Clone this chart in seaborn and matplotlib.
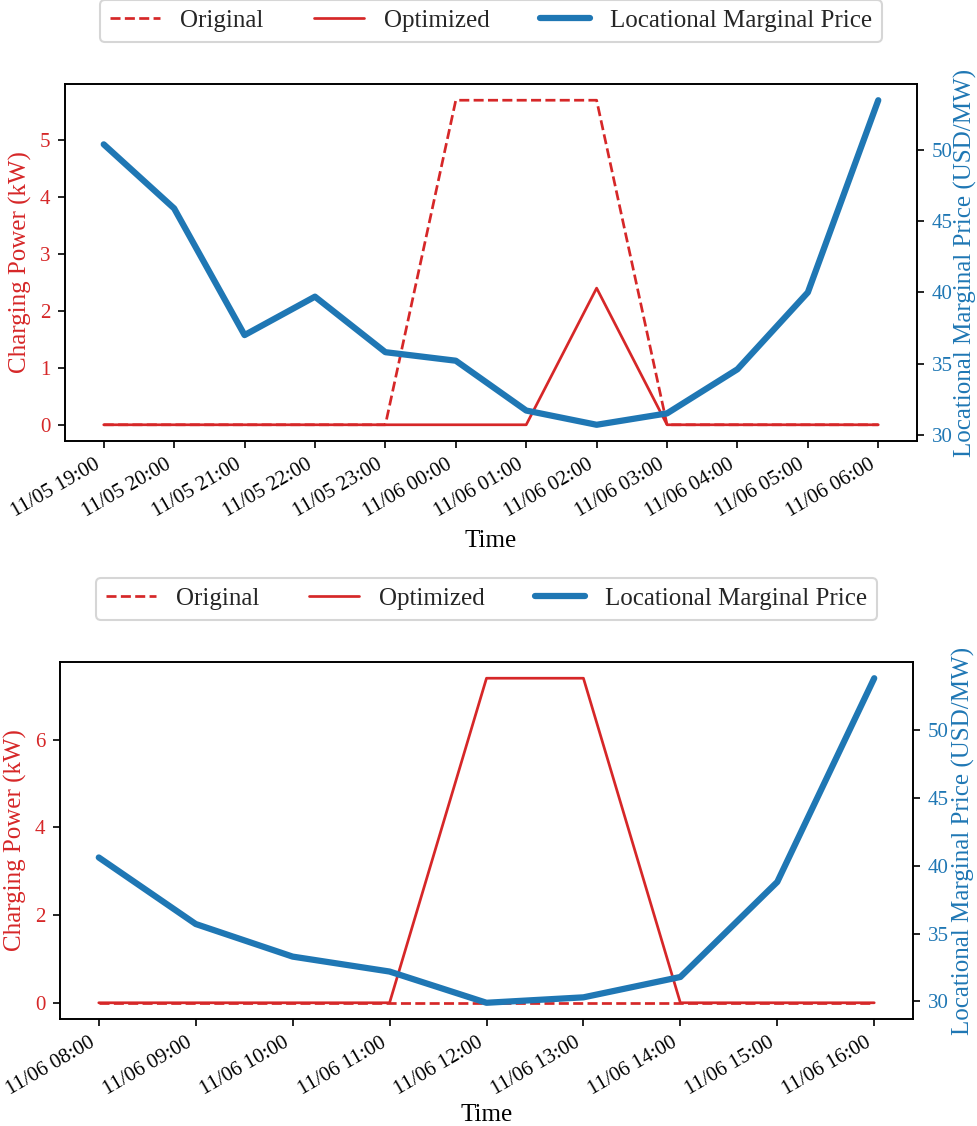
import matplotlib
matplotlib.use("Agg")
import matplotlib.pyplot as plt
import matplotlib.dates as mdates
import seaborn as sns
import pandas as pd

# ---- data ----
times_1 = ["2023-11-05 19:00", "2023-11-05 20:00", "2023-11-05 21:00", "2023-11-05 22:00",
           "2023-11-05 23:00", "2023-11-06 00:00", "2023-11-06 01:00", "2023-11-06 02:00",
           "2023-11-06 03:00", "2023-11-06 04:00", "2023-11-06 05:00", "2023-11-06 06:00"]
original_1 = [0, 0, 0, 0, 0, 5.7, 5.7, 5.7, 0, 0, 0, 0]
optimized_1 = [0, 0, 0, 0, 0, 0, 0, 2.4, 0, 0, 0, 0]
lmp_1 = [50.4, 45.9, 37.0, 39.7, 35.8, 35.2, 31.7, 30.7, 31.5, 34.6, 40.0, 53.5]

times_2 = ["2023-11-06 08:00", "2023-11-06 09:00", "2023-11-06 10:00", "2023-11-06 11:00",
           "2023-11-06 12:00", "2023-11-06 13:00", "2023-11-06 14:00", "2023-11-06 15:00",
           "2023-11-06 16:00"]
original_2 = [0, 0, 0, 0, 0, 0, 0, 0, 0]
optimized_2 = [0, 0, 0, 0, 7.4, 7.4, 0, 0, 0]
lmp_2 = [40.6, 35.7, 33.3, 32.2, 29.9, 30.3, 31.8, 38.8, 53.8]

RED = "#d62728"
BLUE = "#1f77b4"

sns.set_theme(style="ticks")
plt.rcParams["font.family"] = ["Liberation Serif", "DejaVu Serif"]
plt.rcParams["axes.edgecolor"] = "black"
plt.rcParams["xtick.color"] = "black"
plt.rcParams["ytick.color"] = "black"
for ax_name in ("xtick", "ytick"):
    plt.rcParams[f"{ax_name}.major.size"] = 3.5
    plt.rcParams[f"{ax_name}.major.width"] = 0.8
    plt.rcParams[f"{ax_name}.major.pad"] = 3.5

fig = plt.figure(figsize=(977 / 150, 1126 / 150), dpi=150)
ax_top = fig.add_axes([65 / 977, 1 - 441 / 1126, 852 / 977, 357 / 1126])
ax_bot = fig.add_axes([60 / 977, 1 - 1019 / 1126, 853 / 977, 357 / 1126])


def panel(ax, times, orig, opt, lmp, xlabelpad, ylabelpad):
    df = pd.DataFrame({"Time": pd.to_datetime(times), "Original": orig,
                       "Optimized": opt, "LMP": lmp})
    sns.lineplot(data=df, x="Time", y="Original", ax=ax, color=RED,
                 linestyle="--", linewidth=1.3, label="Original", legend=False)
    sns.lineplot(data=df, x="Time", y="Optimized", ax=ax, color=RED,
                 linewidth=1.3, label="Optimized", legend=False)
    ax2 = ax.twinx()
    sns.lineplot(data=df, x="Time", y="LMP", ax=ax2, color=BLUE,
                 linewidth=3, label="Locational Marginal Price", legend=False)

    ax.set_xticks(df["Time"])
    ax.xaxis.set_major_formatter(mdates.DateFormatter("%m/%d %H:%M"))
    for lab in ax.get_xticklabels():
        lab.set_rotation(30)
        lab.set_ha("right")
        lab.set_fontsize(10)
    ax.set_xlabel("Time", fontsize=12, color="black", labelpad=xlabelpad)
    ax.set_ylabel("Charging Power (kW)", fontsize=12, color=RED)
    ax2.set_ylabel("Locational Marginal Price (USD/MW)", fontsize=12, color=BLUE,
                   labelpad=ylabelpad)
    ax.tick_params(axis="y", labelcolor=RED, labelsize=10)
    ax2.tick_params(axis="y", labelcolor=BLUE, labelsize=10)
    for a in (ax, ax2):
        for s in a.spines.values():
            s.set_color("black")
            s.set_linewidth(0.8)
        a.grid(False)

    h1, l1 = ax.get_legend_handles_labels()
    h2, l2 = ax2.get_legend_handles_labels()
    ax2.legend(h1 + h2, l1 + l2, loc="lower center", bbox_to_anchor=(0.5, 1.1176),
               borderaxespad=0, ncol=3, fontsize=12, frameon=True)
    return ax2


panel(ax_top, times_1, original_1, optimized_1, lmp_1, 4, 0.5)
panel(ax_bot, times_2, original_2, optimized_2, lmp_2, 2, 1.5)

fig.savefig("out.png", dpi=150)
